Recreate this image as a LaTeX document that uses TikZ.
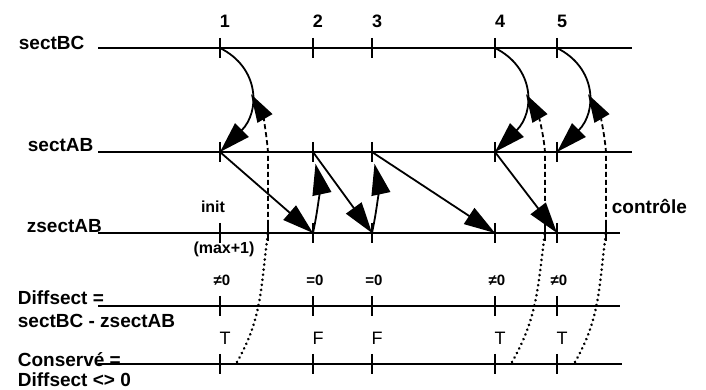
\documentclass[tikz,border=0pt]{standalone}
\usepackage{fontspec}
\setmainfont{Liberation Sans}
\usetikzlibrary{arrows.meta}

\begin{document}
\begin{tikzpicture}[x=1pt,y=1pt,line width=1.8pt,
  arr/.style={-{Triangle[length=31pt,width=19pt]}},
  ctrl/.style={dash pattern=on 5pt off 3pt,-{Triangle[length=28pt,width=17pt]}},
  link/.style={line width=2.8pt,dash pattern=on 0.1pt off 5pt,line cap=round},
  lab/.style={font=\fontsize{19}{21}\selectfont\bfseries,inner sep=0pt},
  sm/.style={font=\fontsize{15}{17}\selectfont\bfseries,inner sep=0pt},
  tf/.style={font=\fontsize{18}{20}\selectfont,inner sep=0pt}]
  \useasboundingbox (0,0) rectangle (706,390);
  % signal names
  \node[lab,anchor=base west] (lBC) at (18,340) {sectBC};
  \node[lab,anchor=base west] (lAB) at (27,238) {sectAB};
  \node[lab,anchor=base west] (lZ) at (26,157) {zsectAB};
  \node[lab,anchor=base west] (lD) at (17,85) {Diffsect =};
  \node[lab,anchor=base west] (lD2) at (17,62) {sectBC - zsectAB};
  \node[lab,anchor=base west] (lC) at (17,23) {Conservé =};
  \node[lab,anchor=base west] (lC2) at (17,3) {Diffsect <> 0};
  % time lines
  \foreach \y/\e in {342/632,238/632,157/620,84/620,26/622} \draw (98,\y) -- (\e,\y);
  \foreach \i/\x/\v/\b in {1/220/≠0/T,2/313/=0/F,3/372/=0/F,4/495/≠0/T,5/557/≠0/T} {
    \foreach \y in {342,238,157,84,26} \draw (\x,\y+10) -- (\x,\y-10);
    \coordinate (bc\i) at (\x,342);
    \coordinate (ab\i) at (\x,238);
    \coordinate (z\i) at (\x,157);
    \node[lab,font=\fontsize{18}{20}\selectfont\bfseries] (n\i) at (\x+5,369) {\i};
    \node[sm] (v\i) at (\x+2,110) {\v};
    \node[tf] (t\i) at (\x+5,52) {\b};
  }
  \node[sm,font=\fontsize{16}{18}\selectfont\bfseries] (init) at (213,183) {init};
  \node[sm,font=\fontsize{16}{18}\selectfont\bfseries] (max) at (224,141) {(max+1)};
  \node[lab,anchor=west] (ctl) at (611,183) {contrôle};
  % sectBC -> sectAB
  \foreach \i in {1,4,5}
    \draw[arr] (bc\i) .. controls +(40,-20) and +(40,40) .. (ab\i) coordinate[pos=.5] (m\i);
  % sectAB -> zsectAB and back
  \foreach \a/\b in {1/2,2/3,3/4,4/5} \draw[arr] (ab\a) -- (z\b);
  \foreach \i in {2,3} \draw[arr,shorten >=12pt] (z\i) to[bend right=12] (ab\i);
  % control
  \foreach \i/\x/\s in {1/268/237,4/545/512,5/606/575} {
    \coordinate (k\i) at (\x,157);
    \coordinate (j\i) at (\x,238);
    \coordinate (s\i) at (\s,28);
    \draw (k\i) ++(0,8) -- ++(0,-16);
    \draw[ctrl,shorten >=2pt] (k\i) -- (j\i) to[out=95,in=-60] (m\i);
    \draw[link] (s\i) to[out=60,in=-98] (k\i);
  }
\end{tikzpicture}
\end{document}
